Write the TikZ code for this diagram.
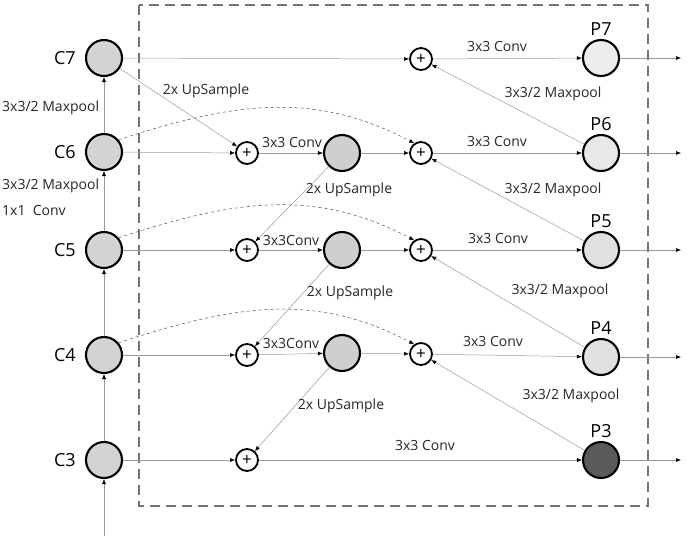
\documentclass[tikz,border=0pt]{standalone}
\usepackage{fontspec}
\setmainfont{Open Sans}
\usetikzlibrary{arrows.meta}

\definecolor{cfill}{HTML}{D3D3D3}
\definecolor{darkp}{HTML}{5A5A5A}

\begin{document}
\begin{tikzpicture}[x=1pt,y=-1pt,
    feat/.style={circle,draw=black,line width=2.1pt,minimum size=36pt,inner sep=0pt,fill=#1},
    feat/.default=cfill,
    adder/.style={circle,draw=black,line width=1.8pt,minimum size=22pt,inner sep=0pt,font=\fontsize{17}{17}\selectfont},
    conn/.style={draw=black!40,line width=0.5pt,-{Latex[length=5pt,width=4pt,black]}},
    skip/.style={conn,dashed,draw=black!70},
    lbl/.style={font=\fontsize{14}{16}\selectfont,text=black!85,inner sep=0pt},
    lvl/.style={font=\fontsize{18}{20}\selectfont,inner sep=0pt}]
        \useasboundingbox (0,0) rectangle (695,542);
        \draw[black!55,line width=2.2pt,dash pattern=on 10pt off 6pt] (139,5) rectangle (648,506);

            % backbone
            \node[feat, label={[lvl,label distance=9pt]left:C7}] (c7) at (104,58) {};
            \node[feat, label={[lvl,label distance=9pt]left:C6}] (c6) at (104,152) {};
            \node[feat, label={[lvl,label distance=9pt]left:C5}] (c5) at (104,250) {};
            \node[feat, label={[lvl,label distance=9pt]left:C4}] (c4) at (104,355) {};
            \node[feat, label={[lvl,label distance=9pt]left:C3}] (c3) at (104,460) {};
            \coordinate (in) at (104,536);

            % top-down adders and convs
            \node[adder] (a6) at (247,153) {+};
            \node[adder] (a5) at (247,250) {+};
            \node[adder] (a4) at (247,355) {+};
            \node[adder] (a3) at (247,460) {+};
            \node[feat={black!19}] (m6) at (342,153) {};
            \node[feat={black!19}] (m5) at (342,250) {};
            \node[feat={black!19}] (m4) at (342,353) {};

            % bottom-up adders
            \node[adder] (b7) at (421,59) {+};
            \node[adder] (b6) at (421,153) {+};
            \node[adder] (b5) at (421,250) {+};
            \node[adder] (b4) at (421,354) {+};

            % outputs
            \node[feat=black!7, label={[lvl,label distance=3pt]above:P7}] (p7) at (601,58) {};
            \node[feat=black!9, label={[lvl,label distance=3pt]above:P6}] (p6) at (601,153) {};
            \node[feat=black!12, label={[lvl,label distance=3pt]above:P5}] (p5) at (601,250) {};
            \node[feat=black!12, label={[lvl,label distance=3pt]above:P4}] (p4) at (601,357) {};
            \node[feat=darkp, label={[lvl,label distance=3pt]above:P3}] (p3) at (601,460) {};

            \foreach \p/\y in {p7/58,p6/153,p5/250,p4/357,p3/460}{
              \coordinate (o\p) at (681,\y);
              \draw[conn] (\p) -- (o\p);
            }

            \draw[conn] (in) -- (c3);
            \foreach \a/\b in {c3/c4,c4/c5,c5/c6,c6/c7}{
              \draw[conn] (\a) -- (\b);
            }

            \draw[conn] (c7) -- (b7);
            \draw[conn] (c7) -- (a6);
            \foreach \a/\b in {c6/a6,c5/a5,c4/a4,c3/a3,a6/m6,a5/m5,a4/m4,a3/p3,
                               m6/b6,m5/b5,m4/b4,m6/a5,m5/a4,m4/a3,
                               b7/p7,b6/p6,b5/p5,b4/p4,p6/b7,p5/b6,p4/b5,p3/b4}{
              \draw[conn] (\a) -- (\b);
            }

            \foreach \a/\b in {c6/b6,c5/b5,c4/b4}{
              \draw[skip] (\a.40) to[out=18,in=152] (\b.125);
            }

            % labels
            \node[lbl,anchor=west] at (2,108) {3x3/2 Maxpool};
            \node[lbl,anchor=west] at (2,186) {3x3/2 Maxpool};
            \node[lbl,anchor=west] at (2,210) {1x1\ \ Conv};
            \node[lbl] at (206,91) {2x UpSample};
            \node[lbl] at (292,142) {3x3 Conv};
            \node[lbl] at (291,240) {3x3Conv};
            \node[lbl] at (291,343) {3x3Conv};
            \node[lbl] at (349,190) {2x UpSample};
            \node[lbl] at (350,293) {2x UpSample};
            \node[lbl] at (341,406) {2x UpSample};
            \node[lbl] at (425,445) {3x3 Conv};
            \node[lbl] at (497,46) {3x3 Conv};
            \node[lbl] at (497,141) {3x3 Conv};
            \node[lbl] at (498,238) {3x3 Conv};
            \node[lbl] at (493,341) {3x3 Conv};
            \node[lbl] at (553,94) {3x3/2 Maxpool};
            \node[lbl] at (553,190) {3x3/2 Maxpool};
            \node[lbl] at (560,291) {3x3/2 Maxpool};
            \node[lbl] at (571,396) {3x3/2 Maxpool};
\end{tikzpicture}
\end{document}
